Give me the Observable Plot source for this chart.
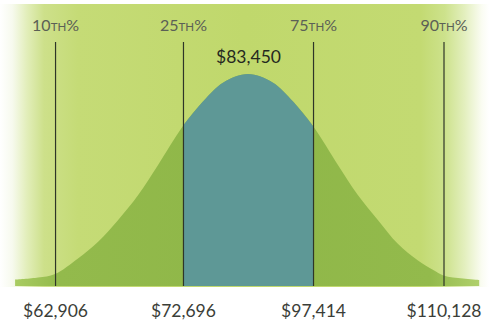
<!DOCTYPE html>
<html>
<head>
<meta charset="utf-8">
<script src="https://cdn.jsdelivr.net/npm/d3@7"></script>
<script src="https://cdn.jsdelivr.net/npm/@observablehq/plot@0.6"></script>
<style>
  html, body { margin: 0; padding: 0; background: #ffffff; }
  #chart svg { display: block; }
</style>
</head>
<body>
<div id="chart"></div>
<script>
// Percentile markers and the salary at each one
const percentiles = [10, 25, 75, 90];
const salaries = [62906, 72696, 97414, 110128];
// Where each marker sits along the spread axis (standard deviations from the median)
const markerZ = [-2.27, -0.765, 0.765, 2.30];
const medianSalary = 83450;

// Bell curve outline: position (std. deviations) and relative height
const curveZ = [-2.74, -2.47, -2.27, -2.0, -1.76, -1.53, -1.29, -1.06, -0.765, -0.53, -0.29, 0,
                0.29, 0.53, 0.765, 1.06, 1.29, 1.53, 1.76, 2.0, 2.18, 2.30, 2.53, 2.72];
const curveDensity = [0.03, 0.04, 0.057, 0.13, 0.21, 0.31, 0.43, 0.57, 0.755, 0.87, 0.96, 1,
                      0.96, 0.87, 0.755, 0.57, 0.43, 0.31, 0.2, 0.12, 0.075, 0.05, 0.035, 0.028];

const markers = percentiles.map((p, i) => ({p, salary: salaries[i], z: markerZ[i]}));
const curve = curveZ.map((z, i) => ({z, d: curveDensity[i]}));
const middle = curve.filter(c => c.z >= markerZ[1] && c.z <= markerZ[2]);
const money = d3.format("$,");

const W = 489, H = 323;

// Gradients for the panel and the curve, plus the soft-edged green panel itself
function backdrop(index, scales, values, dims) {
  const g = d3.create("svg:g");
  const defs = g.append("defs");
  const bg = defs.append("linearGradient").attr("id", "panelFill")
    .attr("gradientUnits", "userSpaceOnUse").attr("x1", 0).attr("x2", dims.width).attr("y1", 0).attr("y2", 0);
  [[0, "#ffffff"], [0.025, "#f7faee"], [0.055, "#e2eeba"], [0.09, "#cde08a"], [0.16, "#c5db76"],
   [0.5, "#c0d86c"], [0.86, "#c3da72"], [0.91, "#cde28c"], [0.95, "#e3efbe"], [0.985, "#fafcf2"], [1, "#ffffff"]]
    .forEach(([o, c]) => bg.append("stop").attr("offset", o).attr("stop-color", c));
  const cf = defs.append("linearGradient").attr("id", "curveFill")
    .attr("gradientUnits", "userSpaceOnUse").attr("x1", 0).attr("x2", dims.width).attr("y1", 0).attr("y2", 0);
  [[0.03, "#a9cc62"], [0.12, "#93ba4c"], [0.5, "#8fb748"], [0.88, "#93ba4c"], [0.98, "#b0d06c"]]
    .forEach(([o, c]) => cf.append("stop").attr("offset", o).attr("stop-color", c));
  g.append("rect").attr("x", 0).attr("y", 4).attr("width", dims.width).attr("height", 283)
    .attr("fill", "url(#panelFill)");
  return g.node();
}

const chart = Plot.plot({
  width: W,
  height: H,
  margin: 0,
  style: {background: "transparent", fontFamily: "Lato, 'Open Sans', sans-serif"},
  x: {domain: [-248 / 85, 241 / 85], axis: null},
  y: {domain: [0, 1], range: [286, 74], axis: null},
  marks: [
    backdrop,
    Plot.areaY(curve, {x: "z", y: "d", fill: "url(#curveFill)", curve: "catmull-rom"}),
    Plot.areaY(middle, {x: "z", y: "d", fill: "#5e9896", curve: "catmull-rom"}),
    Plot.ruleX(markers, {x: "z", stroke: "#2e3528", strokeWidth: 1.2, insetTop: 42, insetBottom: 37}),
    Plot.text(markers, {x: "z", text: d => `${d.p}TH%`, frameAnchor: "top", dy: 30,
      lineAnchor: "bottom", fontSize: 16, fill: "#5b6056"}),
    Plot.text(markers, {x: "z", text: d => money(d.salary), frameAnchor: "bottom", dy: -7,
      lineAnchor: "bottom", fontSize: 17.5, fill: "#3b3e38"}),
    Plot.text([medianSalary], {x: () => 0, y: () => 1, dy: -12, text: d => money(d),
      lineAnchor: "bottom", fontSize: 17.5, fill: "#25281f"})
  ]
});

// Set the ordinal "TH" in small capitals
d3.select(chart).selectAll("text").each(function () {
  const m = /^(\d+)TH%$/.exec(this.textContent);
  if (!m) return;
  const t = d3.select(this).text("");
  t.append("tspan").text(m[1]);
  t.append("tspan").attr("font-size", "0.72em").text("TH");
  t.append("tspan").text("%");
});

document.getElementById("chart").append(chart);
</script>
</body>
</html>
